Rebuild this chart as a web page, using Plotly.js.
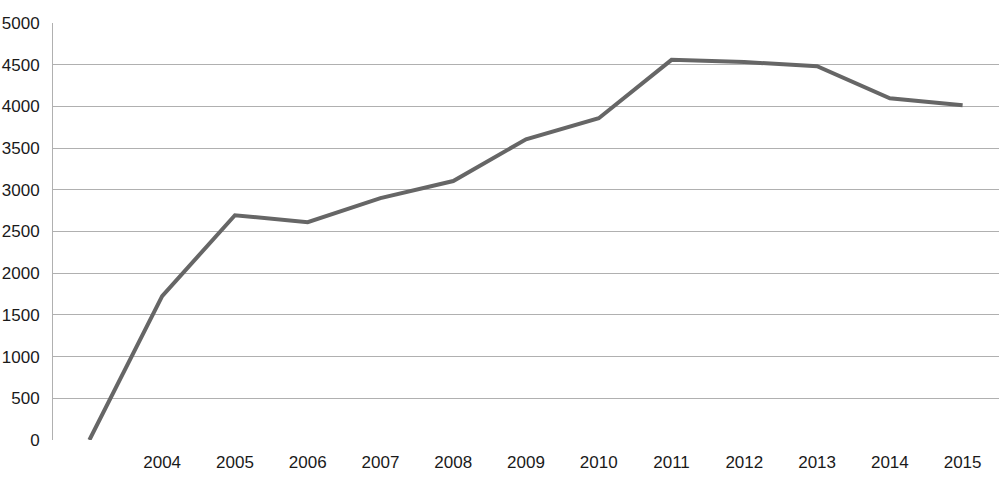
<!DOCTYPE html>
<html>
<head>
<meta charset="utf-8">
<script src="https://cdn.plot.ly/plotly-3.0.1.min.js"></script>
<style>html,body{margin:0;padding:0;background:#fff;}#chart{width:1000px;height:486px;}</style>
</head>
<body>
<div id="chart"></div>
<script>
var categories = ["", "2004", "2005", "2006", "2007", "2008", "2009", "2010", "2011", "2012", "2013", "2014", "2015"];
var values = [0, 1725, 2695, 2612, 2900, 3105, 3605, 3858, 4558, 4532, 4482, 4098, 4015];
var yTicks = [0, 500, 1000, 1500, 2000, 2500, 3000, 3500, 4000, 4500, 5000];

var positions = categories.map(function(c, i){ return i; });

var trace = {
  x: positions,
  y: values,
  type: 'scatter',
  mode: 'lines',
  line: {color: '#666666', width: 4},
  hoverinfo: 'skip'
};

var layout = {
  width: 1000,
  height: 486,
  margin: {l: 53, r: 1, t: 23, b: 46},
  paper_bgcolor: '#ffffff',
  plot_bgcolor: '#ffffff',
  showlegend: false,
  font: {family: '"Liberation Sans", Arial, sans-serif', size: 17, color: '#1a1a1a'},
  xaxis: {
    range: [-0.5, 12.5],
    tickmode: 'array',
    tickvals: positions,
    ticktext: categories,
    showgrid: false,
    zeroline: false,
    showline: false,
    ticks: 'outside',
    ticklen: 7,
    tickcolor: 'rgba(0,0,0,0)',
    fixedrange: true
  },
  yaxis: {
    range: [0, 5000],
    tickmode: 'array',
    tickvals: yTicks,
    ticktext: yTicks.map(String),
    showgrid: true,
    gridcolor: '#b0b0b0',
    gridwidth: 1,
    zeroline: false,
    showline: true,
    linecolor: '#b0b0b0',
    linewidth: 1,
    ticks: 'outside',
    ticklen: 9,
    tickcolor: 'rgba(0,0,0,0)',
    fixedrange: true
  }
};

Plotly.newPlot('chart', [trace], layout, {displayModeBar: false, staticPlot: true});
</script>
</body>
</html>
